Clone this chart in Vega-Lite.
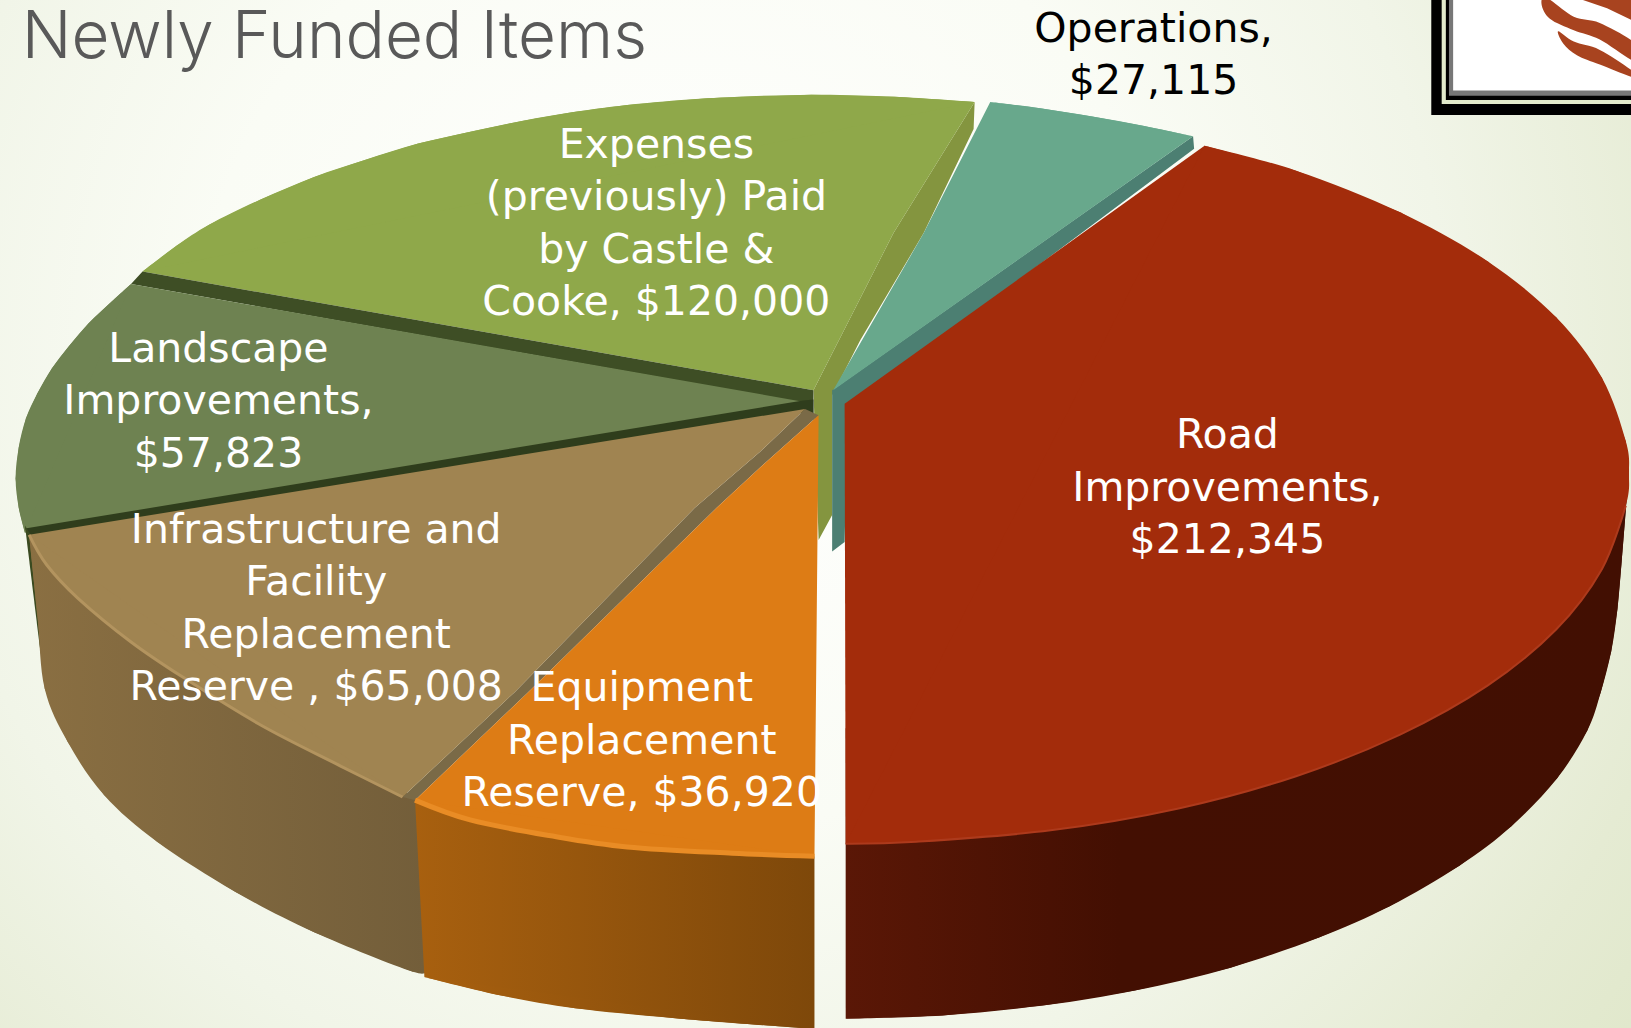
{"$schema":"https://vega.github.io/schema/vega-lite/v6.json","width":1631,"height":1028,"padding":0,"autosize":{"type":"none"},"background":"#ffffff","view":{"stroke":null},
"datasets":{
"bg":[{"x":0,"x2":1568,"y":0,"y2":988}],
"frame":[{"k":"a","x":1376,"x2":1568,"y":0,"y2":110.6},{"k":"b","x":1386,"x2":1568,"y":0,"y2":100},{"k":"c","x":1390,"x2":1568,"y":0,"y2":96},{"k":"d","x":1393,"x2":1568,"y":0,"y2":92},{"k":"e","x":1397,"x2":1568,"y":0,"y2":87}],
"swirl1":[{"x":1487,"y":-2},{"x":1513,"y":16},{"x":1538,"y":22},{"x":1572,"y":42},{"x":1572,"y":59},{"x":1538,"y":38},{"x":1513,"y":29},{"x":1490,"y":18},{"x":1482,"y":4}],
"swirl2":[{"x":1498,"y":30},{"x":1513,"y":40},{"x":1538,"y":48},{"x":1572,"y":70},{"x":1572,"y":75},{"x":1538,"y":62},{"x":1516,"y":53},{"x":1503,"y":42}],
"swirl3":[{"x":1516,"y":-2},{"x":1545,"y":8},{"x":1572,"y":21},{"x":1572,"y":-2}],
"green_wall":[{"x":937,"y":98},{"x":936,"y":124},{"x":888,"y":224},{"x":827,"y":327},{"x":800,"y":380},{"x":800,"y":495},{"x":787,"y":519},{"x":782,"y":375},{"x":859,"y":224}],
"teal_wall":[{"x":1147,"y":131},{"x":1148,"y":143},{"x":815,"y":392},{"x":812,"y":521},{"x":800,"y":530},{"x":800,"y":375}],
"teal_top":[{"x":801,"y":375},{"x":888,"y":224},{"x":952,"y":98,"a":1},{"x":1000,"y":104,"a":1},{"x":1050,"y":112,"a":1},{"x":1100,"y":121,"a":1},{"x":1147,"y":131,"a":1}],
"green_top":[{"x":782,"y":375},{"x":859,"y":224},{"x":937,"y":98,"a":1},{"x":860,"y":93,"a":1},{"x":780,"y":91,"a":1},{"x":680,"y":94.5,"a":1},{"x":603,"y":101,"a":1},{"x":550,"y":108,"a":1},{"x":503,"y":116,"a":1},{"x":450,"y":127,"a":1},{"x":402,"y":138,"a":1},{"x":350,"y":154,"a":1},{"x":302,"y":170,"a":1},{"x":250,"y":192,"a":1},{"x":201,"y":216,"a":1},{"x":170,"y":236,"a":1},{"x":137,"y":261,"a":1}],
"strip1":[{"x":137,"y":261},{"x":782,"y":375},{"x":782,"y":400},{"x":772,"y":387},{"x":126,"y":273}],
"land_top":[{"x":772,"y":386},{"x":126,"y":273,"a":1},{"x":104,"y":293,"a":1},{"x":85,"y":311,"a":1},{"x":66,"y":333,"a":1},{"x":50,"y":354,"a":1},{"x":36,"y":378,"a":1},{"x":25,"y":402,"a":1},{"x":18,"y":430,"a":1},{"x":15,"y":460,"a":1},{"x":18,"y":488,"a":1},{"x":24,"y":512,"a":1}],
"strip2":[{"x":772,"y":385},{"x":782,"y":384},{"x":782,"y":404},{"x":772,"y":397},{"x":28,"y":515},{"x":24,"y":508}],
"sliver":[{"x":24,"y":505},{"x":30,"y":515},{"x":45,"y":664},{"x":38,"y":620}],
"tan_wall":[{"x":403,"y":770},{"x":28,"y":514,"a":1},{"x":36,"y":592,"a":1},{"x":43,"y":662,"a":1},{"x":65,"y":713,"a":1},{"x":100,"y":764,"a":1},{"x":151,"y":809,"a":1},{"x":226,"y":857,"a":1},{"x":302,"y":896,"a":1},{"x":397,"y":934,"a":1},{"x":409,"y":930,"a":1}],
"tan_edge":[{"x":787,"y":399},{"x":731,"y":449},{"x":689,"y":488},{"x":508,"y":665},{"x":399,"y":769},{"x":387,"y":766},{"x":495,"y":665},{"x":668,"y":488},{"x":731,"y":434},{"x":774,"y":393}],
"tan_top":[{"x":774,"y":393},{"x":731,"y":434},{"x":668,"y":488},{"x":495,"y":665},{"x":387,"y":766,"a":1},{"x":327,"y":736,"a":1},{"x":251,"y":697,"a":1},{"x":176,"y":651,"a":1},{"x":126,"y":617,"a":1},{"x":75,"y":575,"a":1},{"x":45,"y":543,"a":1},{"x":28,"y":514,"a":1}],
"orange_wall":[{"x":399,"y":769},{"x":783,"y":823},{"x":783,"y":989,"a":1},{"x":654,"y":979,"a":1},{"x":553,"y":969,"a":1},{"x":478,"y":956,"a":1},{"x":408,"y":939,"a":1}],
"orange_top":[{"x":787,"y":399},{"x":783,"y":823,"a":1},{"x":704,"y":820,"a":1},{"x":603,"y":814,"a":1},{"x":528,"y":803,"a":1},{"x":452,"y":788,"a":1},{"x":399,"y":769,"a":1},{"x":508,"y":665},{"x":689,"y":488},{"x":731,"y":449}],
"red_wall":[{"x":813,"y":700},{"x":1566,"y":450,"a":1},{"x":1563,"y":490,"a":1},{"x":1559,"y":540,"a":1},{"x":1555,"y":585,"a":1},{"x":1549,"y":626,"a":1},{"x":1539,"y":665,"a":1},{"x":1526,"y":702,"a":1},{"x":1497,"y":748,"a":1},{"x":1453,"y":794,"a":1},{"x":1403,"y":832,"a":1},{"x":1336,"y":871,"a":1},{"x":1268,"y":901,"a":1},{"x":1183,"y":930,"a":1},{"x":1091,"y":952,"a":1},{"x":1006,"y":966,"a":1},{"x":906,"y":976,"a":1},{"x":813,"y":979,"a":1}],
"red_top":[{"x":812,"y":388},{"x":1158,"y":140,"a":1},{"x":1246,"y":164,"a":1},{"x":1346,"y":204,"a":1},{"x":1430,"y":251,"a":1},{"x":1496,"y":305,"a":1},{"x":1540,"y":363,"a":1},{"x":1563,"y":424,"a":1},{"x":1566,"y":455,"a":1},{"x":1563,"y":486,"a":1},{"x":1540,"y":547,"a":1},{"x":1496,"y":605,"a":1},{"x":1430,"y":659,"a":1},{"x":1346,"y":706,"a":1},{"x":1246,"y":746,"a":1},{"x":1133,"y":777,"a":1},{"x":1010,"y":798,"a":1},{"x":881,"y":809,"a":1},{"x":813,"y":811,"a":1}],
"labels":[
{"slice":"Expenses (previously) Paid by Castle & Cooke","value":120000,"label":"Expenses\n(previously)  Paid\nby Castle &\nCooke,  $120,000","x":631,"y":152},
{"slice":"Landscape Improvements","value":57823,"label":"Landscape\nImprovements,\n$57,823","x":210,"y":348},
{"slice":"Infrastructure and Facility Replacement Reserve","value":65008,"label":"Infrastructure and\nFacility\nReplacement\nReserve ,  $65,008","x":304,"y":522},
{"slice":"Equipment Replacement Reserve","value":36920,"label":"Equipment\nReplacement\nReserve,  $36,920","x":617,"y":674},
{"slice":"Road Improvements","value":212345,"label":"Road\nImprovements,\n$212,345","x":1180,"y":431}],
"ops":[{"slice":"Operations","value":27115,"label":"Operations,\n$27,115","x":1109,"y":40}],
"title":[{"label":"s Newly Funded Items","x":622,"y":56}]
},
"encoding":{"x":{"field":"x","type":"quantitative","scale":{"domain":[0,1568],"nice":false,"zero":false},"axis":null},"y":{"field":"y","type":"quantitative","scale":{"domain":[988,0],"nice":false,"zero":false},"axis":null}},
"layer":[
{"data":{"name":"bg"},"mark":{"type":"rect","fill":{"gradient":"radial","x1":0.42,"y1":0.4,"r1":0,"x2":0.42,"y2":0.4,"r2":0.85,"stops":[{"offset":0,"color":"#ffffff"},{"offset":0.35,"color":"#fafcf5"},{"offset":0.55,"color":"#f1f5e8"},{"offset":0.75,"color":"#e5ebd3"},{"offset":1,"color":"#d9e3bf"}]}},"encoding":{"x2":{"field":"x2"},"y2":{"field":"y2"}}},
{"data":{"name":"frame"},"mark":{"type":"rect"},"encoding":{"x2":{"field":"x2"},"y2":{"field":"y2"},"fill":{"field":"k","type":"nominal","legend":null,"scale":{"domain":["a","b","c","d","e"],"range":["#000000","#e3ebcc","#000000","#777777","#ffffff"]}},"order":{"field":"k"}}},
{"data":{"name":"swirl1"},"mark":{"type":"line","interpolate":"cardinal-closed","fill":"#a8431f","stroke":"transparent","strokeWidth":0},"encoding":{"order":{"value":null}}},
{"data":{"name":"swirl2"},"mark":{"type":"line","interpolate":"cardinal-closed","fill":"#a8431f","stroke":"transparent","strokeWidth":0},"encoding":{"order":{"value":null}}},
{"data":{"name":"swirl3"},"mark":{"type":"line","interpolate":"linear-closed","fill":"#a8431f","stroke":"transparent","strokeWidth":0},"encoding":{"order":{"value":null}}},
{"data":{"name":"title"},"mark":{"type":"text","align":"right","baseline":"alphabetic","font":"Inter","fontWeight":300,"fontSize":65.5,"fill":"#595959"},"encoding":{"text":{"field":"label"}}},
{"data":{"name":"green_wall"},"mark":{"type":"line","interpolate":"linear-closed","fill":"#84953f","stroke":"transparent","strokeWidth":0},"encoding":{"order":{"value":null}}},
{"data":{"name":"teal_wall"},"mark":{"type":"line","interpolate":"linear-closed","fill":"#4c7f72","stroke":"transparent","strokeWidth":0},"encoding":{"order":{"value":null}}},
{"data":{"name":"teal_top"},"mark":{"type":"line","interpolate":"linear-closed","fill":"#68a88c","stroke":"transparent","strokeWidth":0},"encoding":{"order":{"value":null}}},
{"data":{"name":"teal_top"},"transform":[{"filter":"datum.a"}],"mark":{"type":"line","interpolate":"cardinal","fill":"#68a88c","stroke":"transparent","strokeWidth":0},"encoding":{"order":{"value":null}}},
{"data":{"name":"green_top"},"mark":{"type":"line","interpolate":"linear-closed","fill":"#8fa84a","stroke":"transparent","strokeWidth":0},"encoding":{"order":{"value":null}}},
{"data":{"name":"green_top"},"transform":[{"filter":"datum.a"}],"mark":{"type":"line","interpolate":"cardinal","fill":"#8fa84a","stroke":"transparent","strokeWidth":0},"encoding":{"order":{"value":null}}},
{"data":{"name":"strip1"},"mark":{"type":"line","interpolate":"linear-closed","fill":"#3e4e25","stroke":"transparent","strokeWidth":0},"encoding":{"order":{"value":null}}},
{"data":{"name":"land_top"},"mark":{"type":"line","interpolate":"linear-closed","fill":"#6e8251","stroke":"transparent","strokeWidth":0},"encoding":{"order":{"value":null}}},
{"data":{"name":"land_top"},"transform":[{"filter":"datum.a"}],"mark":{"type":"line","interpolate":"cardinal","fill":"#6e8251","stroke":"transparent","strokeWidth":0},"encoding":{"order":{"value":null}}},
{"data":{"name":"strip2"},"mark":{"type":"line","interpolate":"linear-closed","fill":"#2f3d1c","stroke":"transparent","strokeWidth":0},"encoding":{"order":{"value":null}}},
{"data":{"name":"sliver"},"mark":{"type":"line","interpolate":"linear-closed","fill":"#3a4a20","stroke":"transparent","strokeWidth":0},"encoding":{"order":{"value":null}}},
{"data":{"name":"tan_wall"},"mark":{"type":"line","interpolate":"linear-closed","stroke":"transparent","strokeWidth":0,"fill":{"gradient":"linear","x1":0,"y1":0,"x2":1,"y2":0,"stops":[{"offset":0,"color":"#8a6f42"},{"offset":1,"color":"#735e3a"}]}},"encoding":{"order":{"value":null}}},
{"data":{"name":"tan_wall"},"transform":[{"filter":"datum.a"}],"mark":{"type":"line","interpolate":"cardinal","stroke":"transparent","strokeWidth":0,"fill":{"gradient":"linear","x1":0,"y1":0,"x2":1,"y2":0,"stops":[{"offset":0,"color":"#8a6f42"},{"offset":1,"color":"#735e3a"}]}},"encoding":{"order":{"value":null}}},
{"data":{"name":"tan_edge"},"mark":{"type":"line","interpolate":"linear-closed","fill":"#7a6a47","stroke":"transparent","strokeWidth":0},"encoding":{"order":{"value":null}}},
{"data":{"name":"tan_top"},"mark":{"type":"line","interpolate":"linear-closed","fill":"#a08451","stroke":"transparent","strokeWidth":0},"encoding":{"order":{"value":null}}},
{"data":{"name":"tan_top"},"transform":[{"filter":"datum.a"}],"mark":{"type":"line","interpolate":"cardinal","fill":"#a08451","stroke":"transparent","strokeWidth":0},"encoding":{"order":{"value":null}}},
{"data":{"name":"tan_top"},"transform":[{"filter":"datum.a"}],"mark":{"type":"line","interpolate":"cardinal","stroke":"#b3945f","strokeWidth":3},"encoding":{"order":{"value":null}}},
{"data":{"name":"orange_wall"},"mark":{"type":"line","interpolate":"linear-closed","stroke":"transparent","strokeWidth":0,"fill":{"gradient":"linear","x1":0,"y1":0,"x2":1,"y2":0,"stops":[{"offset":0,"color":"#a8600f"},{"offset":1,"color":"#7e480a"}]}},"encoding":{"order":{"value":null}}},
{"data":{"name":"orange_wall"},"transform":[{"filter":"datum.a"}],"mark":{"type":"line","interpolate":"cardinal","stroke":"transparent","strokeWidth":0,"fill":{"gradient":"linear","x1":0,"y1":0,"x2":1,"y2":0,"stops":[{"offset":0,"color":"#a8600f"},{"offset":1,"color":"#7e480a"}]}},"encoding":{"order":{"value":null}}},
{"data":{"name":"orange_top"},"mark":{"type":"line","interpolate":"linear-closed","fill":"#dd7c15","stroke":"transparent","strokeWidth":0},"encoding":{"order":{"value":null}}},
{"data":{"name":"orange_top"},"transform":[{"filter":"datum.a"}],"mark":{"type":"line","interpolate":"cardinal","fill":"#dd7c15","stroke":"transparent","strokeWidth":0},"encoding":{"order":{"value":null}}},
{"data":{"name":"orange_top"},"transform":[{"filter":"datum.a"}],"mark":{"type":"line","interpolate":"cardinal","stroke":"#e98c25","strokeWidth":5},"encoding":{"order":{"value":null}}},
{"data":{"name":"red_wall"},"mark":{"type":"line","interpolate":"linear-closed","stroke":"transparent","strokeWidth":0,"fill":{"gradient":"linear","x1":0,"y1":0,"x2":1,"y2":0,"stops":[{"offset":0,"color":"#5a1706"},{"offset":0.35,"color":"#430f02"},{"offset":1,"color":"#420f02"}]}},"encoding":{"order":{"value":null}}},
{"data":{"name":"red_wall"},"transform":[{"filter":"datum.a"}],"mark":{"type":"line","interpolate":"cardinal","stroke":"transparent","strokeWidth":0,"fill":{"gradient":"linear","x1":0,"y1":0,"x2":1,"y2":0,"stops":[{"offset":0,"color":"#5a1706"},{"offset":0.35,"color":"#430f02"},{"offset":1,"color":"#420f02"}]}},"encoding":{"order":{"value":null}}},
{"data":{"name":"red_top"},"mark":{"type":"line","interpolate":"linear-closed","fill":"#a32c0b","stroke":"transparent","strokeWidth":0},"encoding":{"order":{"value":null}}},
{"data":{"name":"red_top"},"transform":[{"filter":"datum.a"}],"mark":{"type":"line","interpolate":"cardinal","fill":"#a32c0b","stroke":"transparent","strokeWidth":0},"encoding":{"order":{"value":null}}},
{"data":{"name":"red_top"},"transform":[{"filter":"datum.a && datum.y > 480"}],"mark":{"type":"line","interpolate":"cardinal","stroke":"#ad3a1c","strokeWidth":2},"encoding":{"order":{"value":null}}},
{"data":{"name":"labels"},"mark":{"type":"text","align":"center","baseline":"alphabetic","font":"DejaVu Sans","fontSize":41,"lineBreak":"\n","lineHeight":52.3,"fill":"#ffffff"},"encoding":{"text":{"field":"label"}}},
{"data":{"name":"ops"},"mark":{"type":"text","align":"center","baseline":"alphabetic","font":"DejaVu Sans","fontSize":41,"lineBreak":"\n","lineHeight":52.3,"fill":"#000000"},"encoding":{"text":{"field":"label"}}}
]}
